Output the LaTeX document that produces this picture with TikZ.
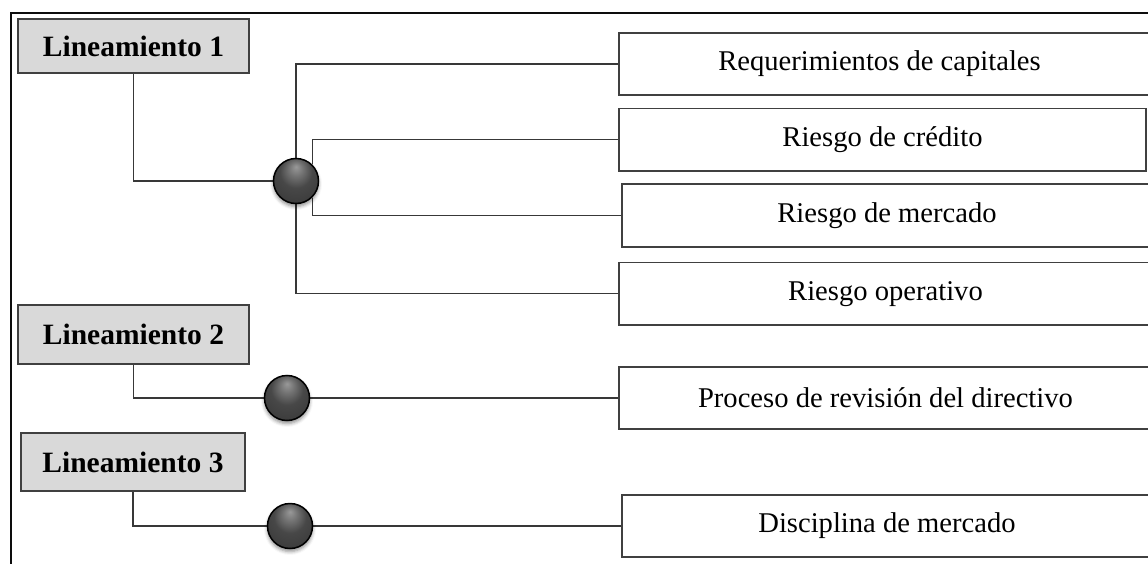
\documentclass[tikz,border=0pt]{standalone}
\usepackage{fontspec}
\setmainfont{Liberation Serif}
\usetikzlibrary{shadows.blur,backgrounds}

\pgfdeclareradialshading{hubshade}{\pgfpoint{0bp}{16bp}}{%
  color(0bp)=(black!40); color(8bp)=(black!55); color(18bp)=(black!72);
  color(30bp)=(black!76); color(50bp)=(black!82)}

\begin{document}
\begin{tikzpicture}[x=1pt,y=-1pt,
  frame/.style={draw=black!95, line width=1.8pt},
  head/.style={draw=black!75, line width=1.5pt, fill=black!15, inner sep=0pt,
    font=\fontsize{29.5}{34}\selectfont\bfseries},
  item/.style={draw=black!75, line width=1.5pt, fill=white, inner sep=0pt,
    font=\fontsize{28.6}{33}\selectfont},
  link/.style={draw=black!78, line width=1.3pt},
  hub/.style={circle, draw=black, line width=1.5pt, minimum size=45pt, inner sep=0pt,
    shading=hubshade,
    blur shadow={shadow xshift=0pt, shadow yshift=-3pt, shadow blur radius=3.5pt,
      shadow opacity=45}}]

\useasboundingbox (0,0) rectangle (1148,564);
\draw[frame] (11,13) rectangle (1175,590);

% guideline headers
\node[head, minimum width=231pt, minimum height=54pt] (l1) at (133.5,46)  {Lineamiento 1};
\node[head, minimum width=231pt, minimum height=59pt] (l2) at (133.5,334.5) {Lineamiento 2};
\node[head, minimum width=224pt, minimum height=58pt] (l3) at (133,462)   {Lineamiento 3};

% component boxes
\node[item, minimum width=533pt, minimum height=62pt]   (r1) at (885.5,64)    {Requerimientos de capitales\hspace*{12pt}};
\node[item, minimum width=527pt, minimum height=62.5pt] (r2) at (882.5,139.75) {Riesgo de crédito};
\node[item, minimum width=530pt, minimum height=63pt]   (r3) at (887,215.5)   {Riesgo de mercado};
\node[item, minimum width=533pt, minimum height=62.5pt] (r4) at (885.5,293.75) {Riesgo operativo};
\node[item, minimum width=533pt, minimum height=62pt]   (r5) at (885.5,398)   {Proceso de revisión del directivo};
\node[item, minimum width=530pt, minimum height=62pt]   (r6) at (887,526)     {Disciplina de mercado};

% junction spheres
\node[hub] (h1) at (296,181) {};
\node[hub] (h2) at (287,398) {};
\node[hub] (h3) at (290,526) {};

\begin{pgfonlayer}{background}
  \draw[link] (l1.south) |- (h1.west);
  \draw[link] (h1.north) |- (r1.west);
  \draw[link] (h1.46) |- (r2.west);
  \draw[link] (h1.-46) |- (r3.west);
  \draw[link] (h1.south) |- (r4.west);
  \draw[link] (l2.south) |- (h2.west);
  \draw[link] (h2.east) -- (r5.west);
  \draw[link] (l3.south) |- (h3.west);
  \draw[link] (h3.east) -- (r6.west);
\end{pgfonlayer}
\end{tikzpicture}
\end{document}
